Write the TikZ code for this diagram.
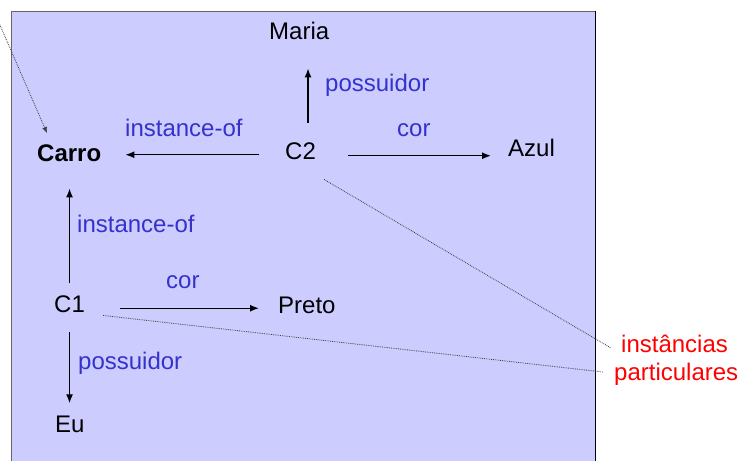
\documentclass[tikz,border=0pt]{standalone}
\usepackage{fontspec}
\setmainfont{Liberation Sans}
\usepackage{tikz}
\usetikzlibrary{arrows.meta}
\definecolor{lavender}{RGB}{204,204,255}
\definecolor{relblue}{RGB}{51,51,204}

\begin{document}
\begin{tikzpicture}[x=1pt,y=-1pt]

	\tikzstyle{word}=[inner sep=0pt, anchor=base west, font=\fontsize{24}{28}\selectfont]
	\tikzstyle{rel label}=[word, text=relblue]
	\tikzstyle{note}=[word, text=red]
	\tikzstyle{rel}=[black, line width=1.3pt, -{Latex[length=9pt,width=7pt]}]
	\tikzstyle{pointer}=[black!75, line width=0.8pt, densely dotted]

	\useasboundingbox (0,0) rectangle (743,460);

	%lavender panel
	\draw [fill=lavender, draw=black!60, line width=0.8pt] (11,11) rectangle (595,480);
	\draw [black, line width=0.8pt] (595,11) -- (595,480);

	%concepts
	\node [word] (maria) at (269,40) {Maria};
	\node [word] (c2) at (285,159) {C2};
	\node [word, font=\bfseries\fontsize{24}{28}\selectfont] (carro) at (37,161) {Carro};
	\node [word] (azul) at (508,156) {Azul};
	\node [word] (c1) at (54,312) {C1};
	\node [word] (preto) at (278,313) {Preto};
	\node [word] (eu) at (55,432) {Eu};

	%relation labels
	\node [rel label] (poss c2) at (325,91) {possuidor};
	\node [rel label] (inst c2) at (125,136) {instance-of};
	\node [rel label] (cor c2) at (397,136) {cor};
	\node [rel label] (inst c1) at (77,232) {instance-of};
	\node [rel label] (cor c1) at (166,288) {cor};
	\node [rel label] (poss c1) at (78,369) {possuidor};

	%note
	\node [note] (inst) at (621,352) {instâncias};
	\node [note] (part) at (614,380) {particulares};
	\coordinate (outside) at (-4,16);

	%relations of C2
	\draw [rel, shorten <=19pt, shorten >=28pt] ([xshift=7.5pt]c2.north) -- ([xshift=7.5pt]c2.north |- maria.south);
	\draw [rel, shorten <=26pt, shorten >=24pt] ([yshift=-4pt]c2.west) -- ([yshift=-4pt]c2.west -| carro.east);
	\draw [rel, shorten <=32pt, shorten >=17pt] ([yshift=-5pt]c2.east) -- ([yshift=-5pt]c2.east -| azul.west);

	%relations of C1
	\draw [rel, shorten <=12pt, shorten >=27pt] (c1.north) -- (c1.north |- carro.south);
	\draw [rel, shorten <=35pt, shorten >=19pt] ([yshift=-4.5pt]c1.east) -- ([yshift=-4.5pt]c1.east -| preto.west);
	\draw [rel, shorten <=20pt, shorten >=12pt] (c1.south) -- (c1.south |- eu.north);

	%dotted pointers
	\draw [pointer, -{Latex[length=6pt,width=5pt]}] (outside) -- ([shift={(10pt,11pt)}]carro.north west);
	\draw [pointer] ([shift={(8pt,-20pt)}]c2.south east) -- ([shift={(-10pt,4pt)}]inst.base west);
	\draw [pointer] ([shift={(18pt,-3pt)}]c1.south east) -- ([shift={(-11pt,8pt)}]part.base west);

\end{tikzpicture}
\end{document}
